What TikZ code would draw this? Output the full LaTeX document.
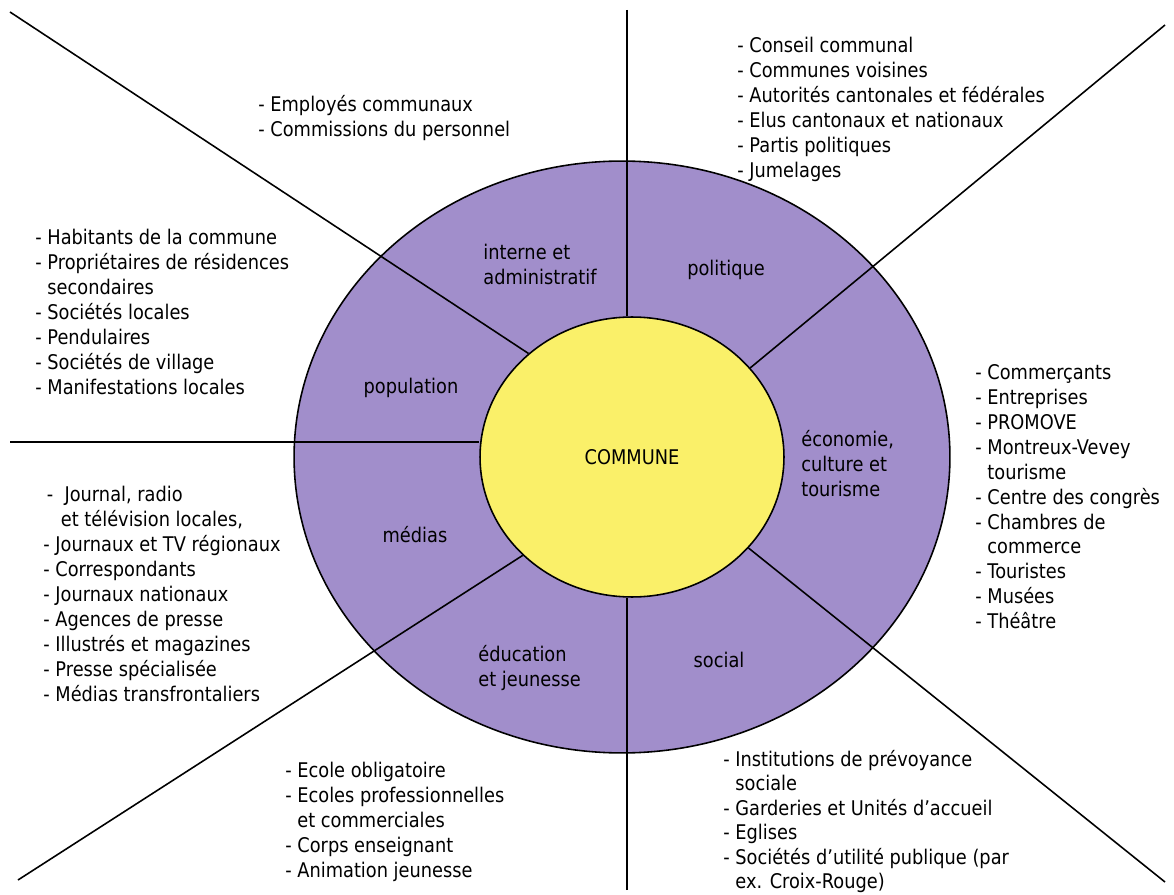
\documentclass[tikz,border=0pt]{standalone}
\usepackage{fontspec}
\setmainfont{DejaVu Sans}[FakeStretch=0.88]
\usetikzlibrary{shapes.geometric}

\definecolor{ringpurple}{RGB}{161,142,203}
\definecolor{hubyellow}{RGB}{250,240,105}

\begin{document}
\begin{tikzpicture}[x=0.02cm, y=-0.02cm,
  font=\fontsize{11.5}{14.2}\selectfont,
  ring/.style={ellipse, draw, line width=0.9pt, fill=ringpurple,
    minimum width=13.12cm, minimum height=11.84cm},
  hub/.style={ellipse, draw, line width=0.9pt, fill=hubyellow,
    minimum width=6.08cm, minimum height=5.6cm, inner sep=0pt},
  list/.style={anchor=north west, align=left, inner sep=0pt},
  sector/.style={align=left, inner sep=0pt},
  spoke/.style={line width=0.9pt}]
  \useasboundingbox (0,0) rectangle (1174,895);

  % rings
  \node[ring] (ring) at (622,457) {};
  \node[hub] (commune) at (632,457) {COMMUNE};

  % outer ends of the spokes
  \coordinate (ntop) at (627,10);
  \coordinate (nbot) at (627,890);
  \coordinate (west) at (10,442);
  \coordinate (nw) at (10,12);
  \coordinate (ne) at (1165,25);
  \coordinate (se) at (1165,882);
  \coordinate (sw) at (18,880);

  \draw[spoke] (ntop) -- (ntop |- commune.north);
  \draw[spoke] (nbot) -- (nbot |- commune.south);
  \draw[spoke] (west) -- (west -| commune.west);
  \draw[spoke] (nw) -- (commune.135);
  \draw[spoke] (ne) -- (commune.37);
  \draw[spoke] (se) -- (commune.-38);
  \draw[spoke] (sw) -- (commune.222);

  % sectors of the ring
  \node[sector, anchor=north west] (lint) at (483,244) {interne et\\administratif};
  \node[sector] (lpol) at (726,270) {politique};
  \node[sector] (lpop) at (411,388) {population};
  \node[sector, anchor=north west] (leco) at (801,430) {économie,\\culture et\\tourisme};
  \node[sector] (lmed) at (415,535) {médias};
  \node[sector, anchor=north west] (ledu) at (478,645) {éducation\\et jeunesse};
  \node[sector] (lsoc) at (719,660) {social};

  % partners
  \node[list] (emp) at (258,95) {- Employés communaux\\- Commissions du personnel};
  \node[list] (pol) at (737,37) {- Conseil communal\\- Communes voisines\\
    - Autorités cantonales et fédérales\\- Elus cantonaux et nationaux\\
    - Partis politiques\\- Jumelages};
  \node[list] (pop) at (35,229) {- Habitants de la commune\\
    - Propriétaires de résidences\\\hphantom{- }secondaires\\
    - Sociétés locales\\- Pendulaires\\- Sociétés de village\\
    - Manifestations locales};
  \node[list] (eco) at (975,364) {- Commerçants\\- Entreprises\\- PROMOVE\\
    - Montreux-Vevey\\\hphantom{- }tourisme\\- Centre des congrès\\
    - Chambres de\\\hphantom{- }commerce\\- Touristes\\- Musées\\- Théâtre};
  \node[list] (med) at (43,486) {\hspace*{2pt}-\ \ Journal, radio\\
    \hspace*{10pt}et télévision locales,\\- Journaux et TV régionaux\\
    - Correspondants\\- Journaux nationaux\\- Agences de presse\\
    - Illustrés et magazines\\- Presse spécialisée\\
    - Médias transfrontaliers};
  \node[list] (edu) at (285,762) {- Ecole obligatoire\\
    - Ecoles professionnelles\\\hphantom{- }et commerciales\\
    - Corps enseignant\\- Animation jeunesse};
  \node[list, font=\fontsize{11.5}{13.9}\selectfont] (soc) at (723,750)
    {- Institutions de prévoyance\\
    \hphantom{- }sociale\\- Garderies et Unités d'accueil\\- Eglises\\
    - Sociétés d'utilité publique (par\\\hphantom{- }ex. Croix-Rouge)};
\end{tikzpicture}
\end{document}
